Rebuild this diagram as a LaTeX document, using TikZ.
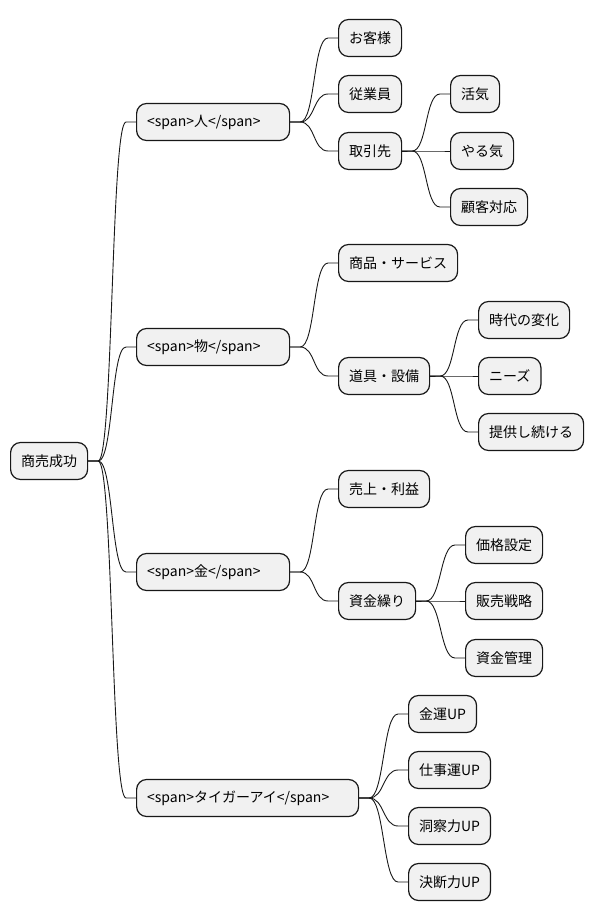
\documentclass[tikz,border=0pt]{standalone}
\usepackage{fontspec}
\setmainfont{Noto Sans CJK JP}
\usepackage{tikz}
\usetikzlibrary{positioning}
\definecolor{BoxFill}{RGB}{241,241,241}
\definecolor{BoxLine}{RGB}{24,24,24}

\begin{document}
\begin{tikzpicture}[x=1pt,y=-1pt,
    mmnode/.style={draw=BoxLine,fill=BoxFill,line width=1.2pt,rounded corners=10pt,
      anchor=west,minimum height=37pt,inner xsep=10.5pt,inner ysep=0pt,
      font=\fontsize{14}{16}\selectfont},
    widebox/.style={text width=#1,align=left},
    mmline/.style={draw=BoxLine,line width=0.9pt}]
      \useasboundingbox (0,0) rectangle (594,922);
      % root
      \node[mmnode] (root) at (10,461) {商売成功};
      % first level
      \node[mmnode,widebox=132pt] (hito) at (136,122) {<span>人</span>};
      \node[mmnode,widebox=132pt] (mono) at (136,347) {<span>物</span>};
      \node[mmnode,widebox=132pt] (kane) at (136,572) {<span>金</span>};
      \node[mmnode,widebox=201pt] (tiger) at (136,798) {<span>タイガーアイ</span>};
      % 人
      \node[mmnode] (kyaku) at (338,38) {お客様};
      \node[mmnode] (jugyo) at (338,94) {従業員};
      \node[mmnode] (torihiki) at (338,151) {取引先};
      \node[mmnode] (kakki) at (450,94) {活気};
      \node[mmnode] (yaruki) at (450,151) {やる気};
      \node[mmnode] (taio) at (450,207) {顧客対応};
      % 物
      \node[mmnode] (shohin) at (338,263) {商品・サービス};
      \node[mmnode] (dogu) at (338,376) {道具・設備};
      \node[mmnode] (jidai) at (478,320) {時代の変化};
      \node[mmnode] (needs) at (478,376) {ニーズ};
      \node[mmnode] (teikyo) at (478,432) {提供し続ける};
      % 金
      \node[mmnode] (uriage) at (338,489) {売上・利益};
      \node[mmnode] (shikin) at (338,601) {資金繰り};
      \node[mmnode] (kakaku) at (465,545) {価格設定};
      \node[mmnode] (hanbai) at (465,601) {販売戦略};
      \node[mmnode] (kanri) at (465,658) {資金管理};
      % タイガーアイ
      \node[mmnode] (kinun) at (408,714) {金運UP};
      \node[mmnode] (shigoto) at (408,770) {仕事運UP};
      \node[mmnode] (dosatsu) at (408,826) {洞察力UP};
      \node[mmnode] (ketsudan) at (408,882) {決断力UP};
      % branches
      \foreach \a/\b in {root/hito,root/mono,root/kane,root/tiger,
          hito/kyaku,hito/jugyo,hito/torihiki,
          torihiki/kakki,torihiki/yaruki,torihiki/taio,
          mono/shohin,mono/dogu,dogu/jidai,dogu/needs,dogu/teikyo,
          kane/uriage,kane/shikin,shikin/kakaku,shikin/hanbai,shikin/kanri,
          tiger/kinun,tiger/shigoto,tiger/dosatsu,tiger/ketsudan}
        \draw[mmline] (\a.east) -- ++(10,0)
          .. controls +(15,0) and +(-15,0) .. ([xshift=-10pt]\b.west)
          -- (\b.west);
    \end{tikzpicture}
\end{document}
